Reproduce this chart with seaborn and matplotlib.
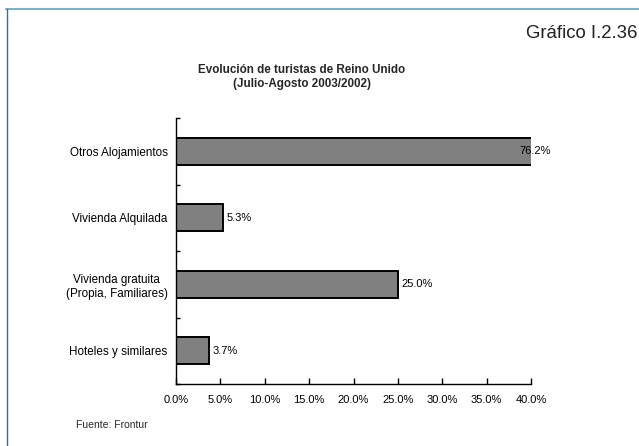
import matplotlib
matplotlib.use("Agg")
import matplotlib.pyplot as plt
from matplotlib.lines import Line2D
from matplotlib.ticker import FuncFormatter, FixedLocator
import seaborn as sns
import pandas as pd

categories = [
    "Otros Alojamientos",
    "Vivienda Alquilada",
    "Vivienda gratuita\n(Propia, Familiares)",
    "Hoteles y similares",
]
values = [76.2, 5.3, 25.0, 3.7]
x_ticks = [0, 5, 10, 15, 20, 25, 30, 35, 40]

df = pd.DataFrame({"categoria": categories, "valor": values})

sns.set_theme(style="white")
plt.rcParams["font.family"] = ["Liberation Sans", "DejaVu Sans"]

W, H = 639, 446
fig = plt.figure(figsize=(W / 100, H / 100), dpi=100)
ax = fig.add_axes([176 / W, 1 - 384 / H, (531 - 176) / W, (384 - 118) / H])

sns.barplot(data=df, x="valor", y="categoria", orient="h", ax=ax,
            color="#808080", edgecolor="black", linewidth=1.4,
            width=0.41, saturation=1)

xmax = 40
ax.set_xlim(0, xmax)
ax.set_ylim(3.5, -0.5)
ax.set_xlabel("")
ax.set_ylabel("")

ax.xaxis.set_major_locator(FixedLocator(x_ticks))
ax.xaxis.set_major_formatter(FuncFormatter(lambda v, p: f"{v:.1f}%"))
ax.tick_params(axis="x", direction="in", length=4, width=1, color="black",
               labelsize=8, labelcolor="black", pad=8, bottom=True)

# category ticks sit between the bars; labels sit at bar centres
ax.set_yticks([-0.5, 0.5, 1.5, 2.5, 3.5])
ax.set_yticklabels([])
ax.set_yticks(range(len(categories)), minor=True)
ax.set_yticklabels(categories, minor=True, fontsize=8.4, color="black",
                   multialignment="center")
ax.tick_params(axis="y", which="major", direction="in", length=3, width=1,
               color="black", left=True)
ax.tick_params(axis="y", which="minor", direction="in", length=2, width=1,
               color="black", pad=6, left=True)

for side in ["top", "right"]:
    ax.spines[side].set_visible(False)
for side in ["left", "bottom"]:
    ax.spines[side].set_color("black")
    ax.spines[side].set_linewidth(1)

for i, v in enumerate(values):
    if v > xmax:
        ax.annotate(f"{v:.1f}%", (xmax, i), xytext=(-12, 0),
                    textcoords="offset pixels", ha="left", va="center",
                    fontsize=8, color="black", annotation_clip=False)
    else:
        ax.annotate(f"{v:.1f}%", (v, i), xytext=(4, 0),
                    textcoords="offset pixels", ha="left", va="center",
                    fontsize=8, color="black")

fig.text(302 / W, 1 - 70 / H, "Evolución de turistas de Reino Unido",
         ha="center", va="center", fontsize=8.4, fontweight="bold")
fig.text(302 / W, 1 - 84 / H, "(Julio-Agosto 2003/2002)",
         ha="center", va="center", fontsize=8.4, fontweight="bold")
fig.text(637 / W, 1 - 34 / H, "Gráfico I.2.36", ha="right", va="center",
         fontsize=13.4, color="#222222")
fig.text(76 / W, 1 - 425 / H, "Fuente: Frontur", ha="left", va="center",
         fontsize=7.5)

# frame lines
fig.add_artist(Line2D([6 / W, 1], [1 - 8.5 / H, 1 - 8.5 / H],
                      transform=fig.transFigure, color="#7ab3c9", linewidth=1.5))
fig.add_artist(Line2D([6.5 / W, 6.5 / W], [0, 1 - 8.5 / H],
                      transform=fig.transFigure, color="#1878a8", linewidth=1))

fig.savefig("out.png", dpi=100, facecolor="white")
